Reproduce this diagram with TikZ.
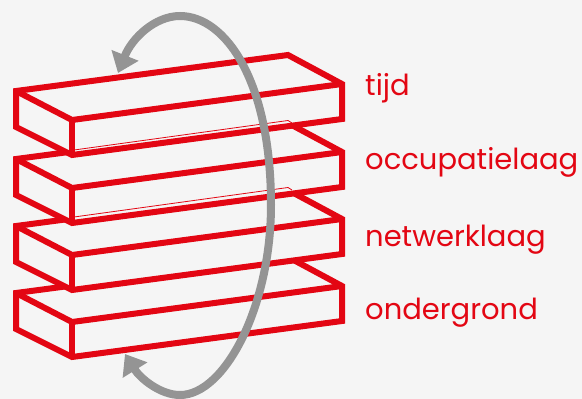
\documentclass[tikz,border=0pt]{standalone}
\usepackage{fontspec}
\setmainfont{Poppins}
\usetikzlibrary{arrows.meta}
\definecolor{laagred}{RGB}{227,6,19}
\definecolor{pijlgrey}{RGB}{148,148,148}
\definecolor{achtergrond}{RGB}{245,245,245}
\tikzset{
  slab/.style={draw=laagred, fill=achtergrond, line width=6pt, line join=miter},
  edgeline/.style={draw=laagred, line width=6pt},
  thinline/.style={draw=laagred, line width=0.8pt},
  laaglabel/.style={text=laagred, font=\fontsize{29}{29}\selectfont, anchor=base west, inner sep=0pt},
  turnarrow/.style={draw=pijlgrey, line width=8pt, {Triangle[length=19pt, width=28pt]}-{Triangle[length=19pt, width=28pt]}},
}
\begin{document}
\begin{tikzpicture}[x=1pt, y=-1pt]
        \useasboundingbox (0,0) rectangle (582,399);
        \fill[achtergrond] (0,0) rectangle (582,399);
        %
        \foreach \laag in {202,135,68,0} {
        \begin{scope}[yshift=-\laag pt]
                \path[slab] (16,91) -- (288,55) -- (342,84) -- (342,119) -- (72,155) -- (16,127) -- cycle;
                \path[edgeline] (16,91) -- (72,120) -- (342,84);
                \path[edgeline] (72,120) -- (72,155);
        \end{scope}
        }
        %
        \path[thinline] (74,150) -- (288,120.5) -- (292,123);
        \path[thinline] (74,217) -- (288,187.5) -- (292,190);
        %
        \node[laaglabel] (tijd) at (365,95) {tijd};
        \node[laaglabel] (occupatie) at (365,169.5) {occupatielaag};
        \node[laaglabel] (netwerk) at (365,246) {netwerklaag};
        \node[laaglabel] (ondergrond) at (365,319) {ondergrond};
        %
        \draw[turnarrow] (125,354) .. controls (140,378) and (160,395) .. (180,395)
                .. controls (225,395) and (271,306) .. (271,205)
                .. controls (271,80) and (225,16) .. (180,16)
                .. controls (155,16) and (132,38) .. (118,73);
\end{tikzpicture}
\end{document}
